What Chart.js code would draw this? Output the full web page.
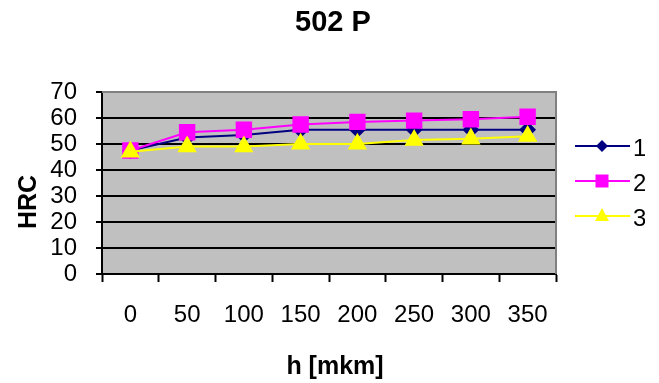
<!DOCTYPE html>
<html>
<head>
<meta charset="utf-8">
<script src="https://cdn.jsdelivr.net/npm/chart.js@4.4.1/dist/chart.umd.min.js"></script>
<style>
  html, body { margin: 0; padding: 0; background: #fff; }
  #wrap { width: 659px; height: 383px; }
</style>
</head>
<body>
<div id="wrap"><canvas id="chart"></canvas></div>
<script>
var depths = ['0', '50', '100', '150', '200', '250', '300', '350'];
var hrc1 = [47.5, 52.5, 53.5, 55.5, 55.5, 55.5, 55.5, 55.5];
var hrc2 = [47.5, 54.5, 55.5, 57.5, 58.5, 59, 59.5, 60.5];
var hrc3 = [47, 49, 49, 50, 50, 51.5, 52, 53];
var seriesNames = ['1', '2', '3'];

var FONT = "Arial, 'Liberation Sans', sans-serif";

// gray plot area + gray top/right border
var plotArea = {
    id: 'plotArea',
    beforeDraw: function (chart) {
        var a = chart.chartArea, ctx = chart.ctx;
        ctx.save();
        ctx.fillStyle = '#c0c0c0';
        ctx.fillRect(a.left, a.top, a.right - a.left, a.bottom - a.top);
        ctx.restore();
    },
    beforeDatasetsDraw: function (chart) {
        var a = chart.chartArea, ctx = chart.ctx;
        ctx.save();
        ctx.strokeStyle = '#808080';
        ctx.lineWidth = 2;
        ctx.beginPath();
        ctx.moveTo(a.left, a.top);
        ctx.lineTo(a.right, a.top);
        ctx.lineTo(a.right, a.bottom);
        ctx.stroke();
        ctx.restore();
    }
};

function marker(ctx, style, x, y, color) {
    ctx.fillStyle = color;
    ctx.beginPath();
    if (style === 'rectRot') {
        ctx.moveTo(x, y - 6); ctx.lineTo(x + 6, y); ctx.lineTo(x, y + 6); ctx.lineTo(x - 6, y);
    } else if (style === 'rect') {
        ctx.rect(x - 6.5, y - 6.5, 13, 13);
    } else {
        ctx.moveTo(x, y - 8); ctx.lineTo(x + 7, y + 5); ctx.lineTo(x - 7, y + 5);
    }
    ctx.closePath();
    ctx.fill();
}

// title, legend with line + marker, and the axis titles
var extras = {
    id: 'extras',
    afterDraw: function (chart) {
        var ctx = chart.ctx;
        ctx.save();
        ctx.fillStyle = '#000';
        ctx.font = 'bold 29px ' + FONT;
        ctx.textAlign = 'center';
        ctx.textBaseline = 'middle';
        ctx.fillText('502 P', 333, 23);
        chart.data.datasets.forEach(function (ds, i) {
            var ly = [146, 181, 216][i];
            ctx.strokeStyle = ds.borderColor;
            ctx.lineWidth = 2;
            ctx.beginPath();
            ctx.moveTo(575, ly);
            ctx.lineTo(630, ly);
            ctx.stroke();
            marker(ctx, ds.pointStyle, 602, ly, ds.borderColor);
            // legend text is cut off at the picture's right edge
            ctx.save();
            ctx.beginPath();
            ctx.rect(600, ly - 20, 45, 40);
            ctx.clip();
            ctx.fillStyle = '#000';
            ctx.font = '24px ' + FONT;
            ctx.textAlign = 'left';
            ctx.textBaseline = 'middle';
            ctx.fillText(ds.label, 633, ly + 3);
            ctx.restore();
        });
        ctx.fillStyle = '#000';
        ctx.font = 'bold 25px ' + FONT;
        ctx.textAlign = 'center';
        ctx.textBaseline = 'middle';
        ctx.fillText('h [mkm]', 335, 367);
        ctx.translate(29, 202);
        ctx.rotate(-Math.PI / 2);
        ctx.fillText('HRC', 0, 0);
        ctx.restore();
    }
};

var ctx = document.getElementById('chart').getContext('2d');
var chart = new Chart(ctx, {
    type: 'line',
    data: {
        labels: depths,
        datasets: [
            {
                label: seriesNames[0],
                data: hrc1,
                borderColor: '#000080',
                backgroundColor: '#000080',
                pointStyle: 'rectRot',
                pointRadius: 7,
                borderWidth: 2,
                order: 3
            },
            {
                label: seriesNames[1],
                data: hrc2,
                borderColor: '#ff00ff',
                backgroundColor: '#ff00ff',
                pointStyle: 'rect',
                pointRadius: 10.2,
                borderWidth: 2,
                order: 2
            },
            {
                label: seriesNames[2],
                data: hrc3,
                borderColor: '#ffff00',
                backgroundColor: '#ffff00',
                pointStyle: 'triangle',
                pointRadius: 9.2,
                borderWidth: 2,
                order: 1
            }
        ]
    },
    options: {
        responsive: true,
        maintainAspectRatio: false,
        animation: false,
        layout: { padding: { left: 0, right: 103, top: 92, bottom: 0 } },
        plugins: {
            legend: { display: false },
            tooltip: { enabled: false },
            title: { display: false }
        },
        scales: {
            x: {
                offset: true,
                grid: {
                    offset: true,
                    drawOnChartArea: false,
                    drawTicks: true,
                    tickLength: 8,
                    tickColor: '#000',
                    tickWidth: 2
                },
                border: { color: '#000', width: 2 },
                ticks: {
                    color: '#000',
                    font: { family: FONT, size: 24 },
                    padding: 19,
                    maxRotation: 0,
                    autoSkip: false
                },
                afterFit: function (s) { s.height = 109; }
            },
            y: {
                min: 0,
                max: 70,
                grid: {
                    color: function (c) { return c.tick && c.tick.value === 70 ? '#808080' : '#000'; },
                    lineWidth: 2,
                    drawTicks: true,
                    tickLength: 6,
                    tickColor: '#000',
                    tickWidth: 2
                },
                border: { color: '#000', width: 2 },
                ticks: {
                    stepSize: 10,
                    autoSkip: false,
                    color: '#000',
                    font: { family: FONT, size: 24 },
                    padding: 19
                },
                afterFit: function (s) { s.width = 102; }
            }
        }
    },
    plugins: [plotArea, extras]
});
</script>
</body>
</html>
